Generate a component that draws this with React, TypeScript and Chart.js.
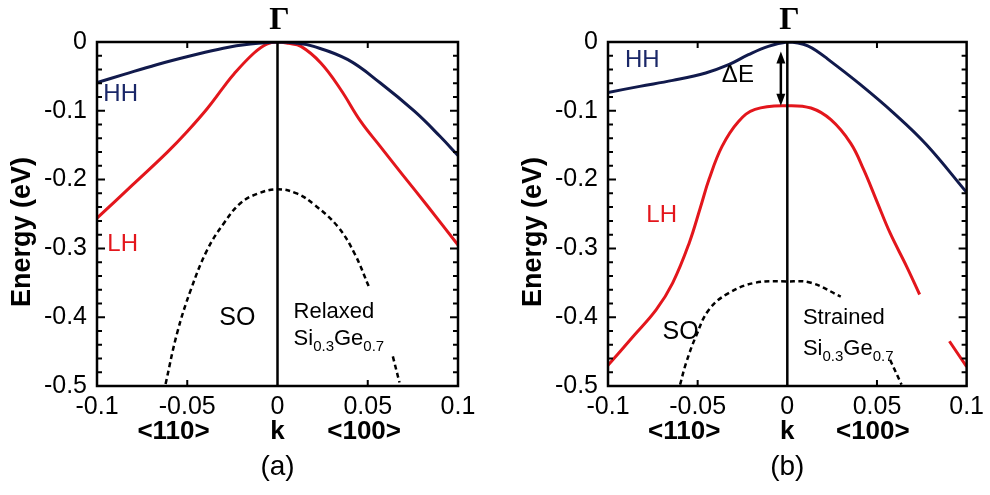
import { useEffect, useRef } from "react";
import { Chart, registerables } from "chart.js";

Chart.register(...registerables);

// Axis ticks: wave vector k and energy (eV)
const kTicks = [-0.1, -0.05, 0, 0.05, 0.1];
const kTickLabels = ["-0.1", "-0.05", "0", "0.05", "0.1"];
const kInnerTicks = [-0.05, 0.05];
const eTicks = [0, -0.1, -0.2, -0.3, -0.4, -0.5];
const eTickLabels = ["0", "-0.1", "-0.2", "-0.3", "-0.4", "-0.5"];
const eMinorTicks = [
  -0.02, -0.04, -0.06, -0.08, -0.12, -0.14, -0.16, -0.18, -0.22, -0.24, -0.26, -0.28,
  -0.32, -0.34, -0.36, -0.38, -0.42, -0.44, -0.46, -0.48,
];

// Zone-centre marker
const gammaK = [0, 0];
const gammaE = [0, -0.5];

// (a) relaxed Si0.3Ge0.7
const relaxedHHk = [-0.1, -0.085, -0.067, -0.048, -0.03, -0.015, 0, 0.01, 0.02, 0.039, 0.057, 0.076, 0.09, 0.1];
const relaxedHHe = [-0.059, -0.047, -0.033, -0.02, -0.009, -0.003, 0, -0.0015, -0.0064, -0.0257, -0.0596, -0.101, -0.137, -0.165];
const relaxedLHk = [-0.1, -0.08, -0.061, -0.05, -0.039, -0.03, -0.024, -0.013, -0.006, 0, 0.006, 0.013, 0.024, 0.035, 0.046, 0.057, 0.069, 0.083, 0.1];
const relaxedLHe = [-0.256, -0.207, -0.16, -0.13, -0.097, -0.066, -0.046, -0.016, -0.003, 0, -0.002, -0.0064, -0.0305, -0.069, -0.115, -0.152, -0.192, -0.238, -0.295];
const relaxedSOk = [-0.062, -0.0556, -0.048, -0.0389, -0.0296, -0.0204, -0.011, 0, 0.011, 0.0204, 0.0333, 0.0426, 0.051, 0.0575, 0.0639, 0.0676];
const relaxedSOe = [-0.497, -0.423, -0.36, -0.302, -0.263, -0.234, -0.2205, -0.214, -0.2205, -0.2365, -0.268, -0.307, -0.358, null, -0.457, -0.495];

// (b) strained Si0.3Ge0.7
const strainedHHk = [-0.1, -0.0823, -0.0639, -0.0455, -0.0327, -0.0217, -0.0106, 0, 0.006, 0.0114, 0.017, 0.0224, 0.0408, 0.0592, 0.0775, 0.1];
const strainedHHe = [-0.0733, -0.0645, -0.0558, -0.045, -0.033, -0.0185, -0.0064, 0, -0.0015, -0.0056, -0.014, -0.0245, -0.062, -0.103, -0.149, -0.2186];
const strainedLHk = [-0.1, -0.086, -0.0731, -0.0639, -0.0547, -0.0483, -0.0437, -0.0364, -0.0272, -0.018, 0, 0.0132, 0.0243, 0.0353, 0.0426, 0.05, 0.0573, 0.0665, 0.0738, 0.082, 0.0904, 0.1];
const strainedLHe = [-0.47, -0.428, -0.389, -0.35, -0.292, -0.239, -0.2, -0.1517, -0.1154, -0.098, -0.0926, -0.096, -0.113, -0.147, -0.1856, -0.232, -0.2776, -0.326, -0.367, null, -0.435, -0.472];
const strainedSOk = [-0.0598, -0.0565, -0.051, -0.0437, -0.0327, -0.018, 0, 0.0132, 0.0298, 0.043, 0.0573, 0.0637];
const strainedSOe = [-0.498, -0.467, -0.428, -0.389, -0.365, -0.35, -0.348, -0.35, -0.37, null, -0.4618, -0.498];

// Heavy-hole / light-hole splitting at Γ for the strained alloy
const splitK = -0.0036;
const splitTop = -0.0137;
const splitBottom = -0.0926;

const NAVY = "#111a4c";
const NAVY_TEXT = "#1a2768";
const RED = "#e3161c";
const SANS = "'Liberation Sans', Arial, Helvetica, sans-serif";
const SERIF = "'Liberation Serif', 'Times New Roman', serif";

type Note = { text: string; k: number; e: number; color: string; size: number; align: CanvasTextAlign };

interface PanelSpec {
  tag: string;
  width: number;
  axisWidth: number;
  padRight: number;
  hh: [number[], number[]];
  lh: [number[], (number | null)[]];
  so: [number[], (number | null)[]];
  notes: Note[];
  alloy: { first: string; k: number; e1: number; e2: number };
  dirLabels: { k110: number; k100: number };
  arrow?: { k: number; top: number; bottom: number };
}

const pts = (ks: number[], es: (number | null)[]) => ks.map((k, i) => ({ x: k, y: es[i] }));

function drawArrow(ctx: CanvasRenderingContext2D, x: number, y1: number, y2: number) {
  const head = 12;
  const half = 4.5;
  ctx.save();
  ctx.strokeStyle = "#000";
  ctx.fillStyle = "#000";
  ctx.lineWidth = 2.5;
  ctx.beginPath();
  ctx.moveTo(x, y1 + head - 2);
  ctx.lineTo(x, y2 - head + 2);
  ctx.stroke();
  ctx.beginPath();
  ctx.moveTo(x, y1);
  ctx.lineTo(x - half, y1 + head);
  ctx.lineTo(x + half, y1 + head);
  ctx.closePath();
  ctx.fill();
  ctx.beginPath();
  ctx.moveTo(x, y2);
  ctx.lineTo(x - half, y2 - head);
  ctx.lineTo(x + half, y2 - head);
  ctx.closePath();
  ctx.fill();
  ctx.restore();
}

function makeDecor(spec: PanelSpec) {
  return {
    id: "bandDecor",
    afterDatasetsDraw(chart: Chart) {
      const ctx = chart.ctx;
      const area = chart.chartArea;
      const xs = chart.scales.x;
      const ys = chart.scales.y;
      ctx.save();

      // frame
      ctx.strokeStyle = "#000";
      ctx.lineWidth = 2.5;
      ctx.strokeRect(area.left, area.top, area.right - area.left, area.bottom - area.top);

      // inward tick marks on all four sides
      ctx.lineWidth = 2;
      ctx.beginPath();
      for (const v of kInnerTicks) {
        const px = xs.getPixelForValue(v);
        ctx.moveTo(px, area.bottom);
        ctx.lineTo(px, area.bottom - 6);
        ctx.moveTo(px, area.top);
        ctx.lineTo(px, area.top + 6);
      }
      for (const v of eTicks) {
        const py = ys.getPixelForValue(v);
        ctx.moveTo(area.left, py);
        ctx.lineTo(area.left + 8, py);
        ctx.moveTo(area.right, py);
        ctx.lineTo(area.right - 8, py);
      }
      for (const v of eMinorTicks) {
        const py = ys.getPixelForValue(v);
        ctx.moveTo(area.left, py);
        ctx.lineTo(area.left + 5, py);
        ctx.moveTo(area.right, py);
        ctx.lineTo(area.right - 5, py);
      }
      ctx.stroke();

      const x0 = xs.getPixelForValue(0);

      // Γ point
      ctx.fillStyle = "#000";
      ctx.textAlign = "center";
      ctx.textBaseline = "middle";
      ctx.font = `bold 32px ${SERIF}`;
      ctx.fillText("Γ", x0 + 2, area.top - 21);

      // band labels
      for (const n of spec.notes) {
        ctx.fillStyle = n.color;
        ctx.textAlign = n.align;
        ctx.textBaseline = "middle";
        ctx.font = `${n.size}px ${SANS}`;
        ctx.fillText(n.text, xs.getPixelForValue(n.k), ys.getPixelForValue(n.e));
      }

      // alloy composition
      const ax = xs.getPixelForValue(spec.alloy.k);
      ctx.fillStyle = "#000";
      ctx.textAlign = "left";
      ctx.textBaseline = "alphabetic";
      ctx.font = `22px ${SANS}`;
      ctx.fillText(spec.alloy.first, ax, ys.getPixelForValue(spec.alloy.e1));
      const by = ys.getPixelForValue(spec.alloy.e2);
      let cx = ax;
      const parts: [string, boolean][] = [["Si", false], ["0.3", true], ["Ge", false], ["0.7", true]];
      for (const [t, sub] of parts) {
        ctx.font = sub ? `15px ${SANS}` : `22px ${SANS}`;
        ctx.fillText(t, cx, sub ? by + 6 : by);
        cx += ctx.measureText(t).width;
      }

      // ΔE arrow
      if (spec.arrow) {
        drawArrow(
          ctx,
          xs.getPixelForValue(spec.arrow.k),
          ys.getPixelForValue(spec.arrow.top),
          ys.getPixelForValue(spec.arrow.bottom)
        );
      }

      // direction labels under the k axis
      ctx.fillStyle = "#000";
      ctx.textAlign = "center";
      ctx.textBaseline = "middle";
      ctx.font = `bold 26px ${SANS}`;
      ctx.fillText("<110>", xs.getPixelForValue(spec.dirLabels.k110), area.bottom + 46);
      ctx.fillText("k", x0, area.bottom + 46);
      ctx.fillText("<100>", xs.getPixelForValue(spec.dirLabels.k100), area.bottom + 46);

      // panel tag
      ctx.font = `28px ${SANS}`;
      ctx.fillText(spec.tag, x0, area.bottom + 81);

      // energy axis title
      ctx.save();
      ctx.translate(area.left - 74.5, (area.top + area.bottom) / 2 + 18);
      ctx.rotate(-Math.PI / 2);
      ctx.font = `bold 27px ${SANS}`;
      ctx.fillText("Energy (eV)", 0, 0);
      ctx.restore();

      ctx.restore();
    },
  };
}

function BandPanel({ spec, left }: { spec: PanelSpec; left: number }) {
  const ref = useRef<HTMLCanvasElement | null>(null);

  useEffect(() => {
    if (!ref.current) return;
    const tickFont = { family: SANS, size: 25 };
    const chart = new Chart(ref.current, {
      type: "line",
      data: {
        datasets: [
          { data: pts(gammaK, gammaE), borderColor: "#000", borderWidth: 2.5, tension: 0 },
          { data: pts(spec.hh[0], spec.hh[1]), borderColor: NAVY, borderWidth: 3, tension: 0.4 },
          { data: pts(spec.lh[0], spec.lh[1]), borderColor: RED, borderWidth: 3, tension: 0.4, spanGaps: false },
          {
            data: pts(spec.so[0], spec.so[1]),
            borderColor: "#000",
            borderWidth: 2.5,
            borderDash: [5, 3.5],
            tension: 0.4,
            spanGaps: false,
          },
        ],
      } as any,
      options: {
        responsive: false,
        animation: false,
        devicePixelRatio: 1,
        layout: { padding: { top: 42, right: spec.padRight, left: 0, bottom: 0 } },
        elements: { point: { radius: 0 } },
        plugins: { legend: { display: false }, tooltip: { enabled: false } },
        scales: {
          x: {
            type: "linear",
            min: -0.1,
            max: 0.1,
            position: "bottom",
            grid: { display: false, drawTicks: false },
            border: { display: false },
            afterBuildTicks: (s: any) => {
              s.ticks = kTicks.map((v) => ({ value: v }));
            },
            ticks: {
              font: tickFont,
              color: "#000",
              padding: 6,
              maxRotation: 0,
              autoSkip: false,
              callback: (_v: any, i: number) => kTickLabels[i],
            },
            afterFit: (s: any) => {
              s.height = 109;
            },
          },
          y: {
            type: "linear",
            min: -0.5,
            max: 0,
            position: "left",
            grid: { display: false, drawTicks: false },
            border: { display: false },
            afterBuildTicks: (s: any) => {
              s.ticks = eTicks.map((v) => ({ value: v }));
            },
            ticks: {
              font: tickFont,
              color: "#000",
              padding: 10,
              autoSkip: false,
              callback: (_v: any, i: number) => eTickLabels[i],
            },
            afterFit: (s: any) => {
              s.width = spec.axisWidth;
            },
          },
        },
      } as any,
      plugins: [makeDecor(spec)],
    });
    return () => chart.destroy();
  }, [spec]);

  return (
    <canvas
      ref={ref}
      width={spec.width}
      height={495}
      style={{ position: "absolute", left, top: 0, width: spec.width, height: 495 }}
    />
  );
}

const relaxedPanel: PanelSpec = {
  tag: "(a)",
  width: 495,
  axisWidth: 97,
  padRight: 37,
  hh: [relaxedHHk, relaxedHHe],
  lh: [relaxedLHk, relaxedLHe],
  so: [relaxedSOk, relaxedSOe],
  notes: [
    { text: "HH", k: -0.0965, e: -0.0766, color: NAVY_TEXT, size: 24, align: "left" },
    { text: "LH", k: -0.0943, e: -0.294, color: RED, size: 24, align: "left" },
    { text: "SO", k: -0.0222, e: -0.4007, color: "#000", size: 25, align: "center" },
  ],
  alloy: { first: "Relaxed", k: 0.0089, e1: -0.4015, e2: -0.44 },
  dirLabels: { k110: -0.0576, k100: 0.048 },
};

const strainedPanel: PanelSpec = {
  tag: "(b)",
  width: 495,
  axisWidth: 113,
  padRight: 19,
  hh: [strainedHHk, strainedHHe],
  lh: [strainedLHk, strainedLHe],
  so: [strainedSOk, strainedSOe],
  notes: [
    { text: "HH", k: -0.0905, e: -0.0272, color: NAVY_TEXT, size: 24, align: "left" },
    { text: "ΔE", k: -0.0365, e: -0.049, color: "#000", size: 24, align: "left" },
    { text: "LH", k: -0.0786, e: -0.2525, color: RED, size: 24, align: "left" },
    { text: "SO", k: -0.0696, e: -0.421, color: "#000", size: 25, align: "left" },
  ],
  alloy: { first: "Strained", k: 0.0087, e1: -0.4105, e2: -0.4545 },
  dirLabels: { k110: -0.0575, k100: 0.0477 },
  arrow: { k: splitK, top: splitTop, bottom: splitBottom },
};

export default function App() {
  return (
    <div style={{ position: "fixed", left: 0, top: 0, width: 990, height: 495, background: "#fff" }}>
      <BandPanel spec={relaxedPanel} left={0} />
      <BandPanel spec={strainedPanel} left={495} />
    </div>
  );
}
